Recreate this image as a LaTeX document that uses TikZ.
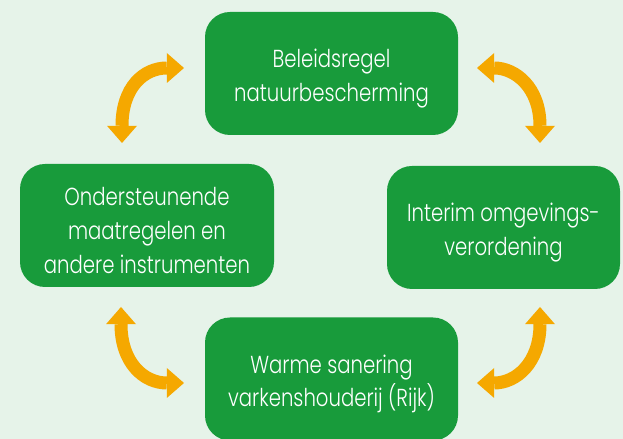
\documentclass[tikz,border=0pt]{standalone}
\usepackage{fontspec}
\setmainfont{Poppins}[UprightFont=* Light, FakeStretch=0.8]
\usepackage{tikz}
\usetikzlibrary{arrows.meta}
\definecolor{bgmint}{HTML}{E6F3E9}
\definecolor{boxgreen}{HTML}{189B3B}
\definecolor{arroworange}{HTML}{F5A800}
\newcommand{\topstrut}{\rule{0pt}{20pt}}

\begin{document}
\begin{tikzpicture}[
		stagebox/.style={rectangle, rounded corners=0.625cm, fill=boxgreen, text=white, align=center, minimum height=3.075cm, inner sep=0pt, font=\fontsize{17.5}{24}\selectfont},
		swaparrow/.style={arroworange, line width=0.325cm, {Triangle[width=0.75cm,length=0.43cm,line width=0pt]}-{Triangle[width=0.75cm,length=0.43cm,line width=0pt]}}
	]
		\clip (0,0) rectangle (15.575,10.975);
		\fill[bgmint] (0,0) rectangle (15.575,10.975);
		\draw (8.2875,9.1375) node[stagebox, minimum width=6.325cm](regel){\topstrut Beleidsregel\\natuurbescherming};
		\draw (3.675,5.3375) node[stagebox, minimum width=6.35cm](steun){\topstrut Ondersteunende\\maatregelen en\\andere instrumenten};
		\draw (12.5875,5.2875) node[stagebox, minimum width=5.825cm](verord){\topstrut Interim omgevings-\\verordening};
		\draw (8.2875,1.5) node[stagebox, minimum width=6.325cm](sanering){\topstrut Warme sanering\\varkenshouderij (Rijk)};
		\coordinate (tlA) at (3.05,7.4);
		\coordinate (tlB) at (4.6,9.275);
		\coordinate (trA) at (11.925,9.275);
		\coordinate (trB) at (13.5,7.4);
		\coordinate (blA) at (3.025,3.3);
		\coordinate (blB) at (4.6,1.4);
		\coordinate (brA) at (13.5,3.3);
		\coordinate (brB) at (11.925,1.4);
		\draw[swaparrow] (tlA) .. controls (3.05,8.8) and (3.6,9.275) .. (tlB);
		\draw[swaparrow] (trA) .. controls (12.875,9.275) and (13.5,8.8) .. (trB);
		\draw[swaparrow] (blA) .. controls (3.025,1.9) and (3.6,1.4) .. (blB);
		\draw[swaparrow] (brA) .. controls (13.5,1.9) and (12.9,1.4) .. (brB);
	\end{tikzpicture}
\end{document}
